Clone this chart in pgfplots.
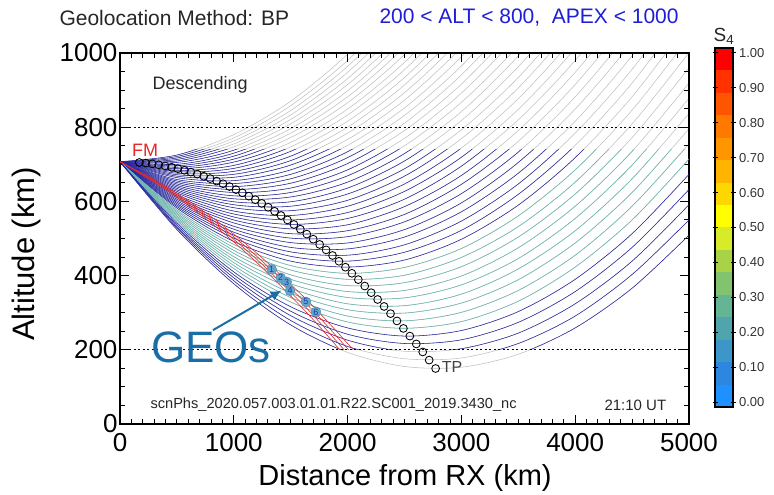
\documentclass[border=0pt]{standalone}
\usepackage{fontspec}
\setmainfont{Liberation Sans}
\usepackage{pgfplots}
\pgfplotsset{compat=1.18}
\usepackage{pgfplotstable}
\usetikzlibrary{arrows.meta}
\newcommand\fs[1]{\fontsize{#1}{#1}\selectfont}
\definecolor{raygray}{RGB}{192,192,192}
\definecolor{raynavy}{RGB}{40,40,165}
\definecolor{rayteal}{RGB}{105,185,178}
\definecolor{rayred}{RGB}{228,40,40}
\definecolor{geoblue}{RGB}{25,110,165}
\definecolor{geofill}{RGB}{100,165,205}
\definecolor{geonum}{RGB}{20,60,170}
\definecolor{titleblue}{RGB}{30,30,215}
\definecolor{cb1}{RGB}{30,144,255}
\definecolor{cb2}{RGB}{45,135,225}
\definecolor{cb3}{RGB}{60,150,200}
\definecolor{cb4}{RGB}{80,165,172}
\definecolor{cb5}{RGB}{100,180,150}
\definecolor{cb6}{RGB}{130,195,110}
\definecolor{cb7}{RGB}{170,210,70}
\definecolor{cb8}{RGB}{215,235,40}
\definecolor{cb9}{RGB}{255,255,0}
\definecolor{cb10}{RGB}{255,215,0}
\definecolor{cb11}{RGB}{255,180,0}
\definecolor{cb12}{RGB}{255,150,0}
\definecolor{cb13}{RGB}{255,120,0}
\definecolor{cb14}{RGB}{255,85,0}
\definecolor{cb15}{RGB}{255,50,0}
\definecolor{cb16}{RGB}{255,0,0}

% ray paths: altitude (km) of each of 50 rays at distances 0..5000 km
\pgfplotstableread{
x r0 r1 r2 r3 r4 r5 r6 r7 r8 r9 r10 r11 r12 r13 r14 r15 r16 r17 r18 r19 r20 r21 r22 r23 r24 r25 r26 r27 r28 r29 r30 r31 r32 r33 r34 r35 r36 r37 r38 r39 r40 r41 r42 r43 r44 r45 r46 r47 r48 r49
0 707 707 707 707 707 707 707 707 707 707 707 707 707 707 707 707 707 707 707 707 707 707 707 707 707 707 707 707 707 707 707 707 707 707 707 707 707 707 707 707 707 707 707 707 707 707 707 707 707 707
500 725 721 717 713 709 705 700 696 692 688 684 680 676 672 668 664 659 655 651 647 643 639 635 631 627 623 618 614 610 606 602 598 594 590 586 582 577 573 569 565 561 557 553 549 545 541 536 532 528 524
1000 780 771 763 755 747 738 730 722 714 706 697 689 681 673 665 656 648 640 632 624 615 607 599 591 583 574 566 558 550 542 533 525 517 509 501 492 484 476 468 460 451 443 435 427 419 410 402 394 386 378
1500 870 858 845 833 821 809 796 784 772 759 747 735 722 710 698 685 673 661 649 636 624 612 599 587 575 562 550 538 526 513 501 489 476 464 452 439 427 415 402 390 378 366 353 341 329 316 304 292 279 267
2000 997 980 964 948 931 915 898 882 866 849 833 816 800 784 767 751 734 718 702 685 669 652 636 620 603 587 570 554 537 521 505 488 472 455 439 423 406 390 373 357 341 324 308 291 275 259 242 226 209 193
2500 1160 1139 1119 1098 1078 1057 1037 1016 996 975 955 934 914 893 873 852 832 811 791 770 750 729 709 688 668 647 627 606 586 565 545 524 504 483 463 442 422 401 381 360 340 319 299 278 258 237 217 196 176 155
3000 1359 1335 1310 1285 1261 1236 1212 1187 1162 1138 1113 1088 1064 1039 1015 990 965 941 916 892 867 842 818 793 769 744 719 695 670 646 621 596 572 547 522 498 473 449 424 399 375 350 326 301 276 252 227 203 178 153
3500 1595 1566 1537 1509 1480 1451 1422 1394 1365 1336 1308 1279 1250 1221 1193 1164 1135 1107 1078 1049 1020 992 963 934 906 877 848 820 791 762 733 705 676 647 619 590 561 532 504 475 446 418 389 360 331 303 274 245 217 188
4000 1866 1834 1801 1768 1735 1702 1670 1637 1604 1571 1538 1505 1473 1440 1407 1374 1341 1309 1276 1243 1210 1177 1145 1112 1079 1046 1013 980 948 915 882 849 816 784 751 718 685 652 620 587 554 521 488 455 423 390 357 324 291 259
4500 2174 2137 2101 2064 2027 1990 1953 1916 1879 1842 1805 1768 1731 1695 1658 1621 1584 1547 1510 1473 1436 1399 1362 1325 1288 1252 1215 1178 1141 1104 1067 1030 993 956 919 882 846 809 772 735 698 661 624 587 550 513 476 439 403 366
5000 2519 2478 2437 2396 2355 2314 2273 2231 2190 2149 2108 2067 2026 1985 1944 1903 1862 1821 1780 1739 1698 1657 1616 1575 1534 1493 1452 1411 1370 1329 1288 1247 1206 1165 1124 1083 1042 1001 960 919 878 837 796 755 714 673 632 591 550 509
}\rays

\pgfplotsset{base/.style={scale only axis, width=569pt, xmin=0, xmax=5000, anchor=south west}}

\begin{document}
\begin{tikzpicture}
\path[use as bounding box] (0pt,0pt) rectangle (774pt,495pt);

% main axis with gray rays
\begin{axis}[base, at={(120pt,71pt)}, height=371pt, ymin=0, ymax=1000,
  axis on top,
  xtick={0,1000,2000,3000,4000,5000}, ytick={0,200,400,600,800,1000},
  minor x tick num=9, minor y tick num=3,
  tick align=inside, major tick length=9pt, minor tick length=5pt,
  tick style={black, line width=1pt},
  axis line style={black, line width=1.5pt},
  scaled ticks=false,
  /pgf/number format/1000 sep={},
  /pgf/number format/assume math mode=true,
  tick label style={font=\fs{26}},
  xticklabel style={yshift=-6pt},
  yticklabel style={xshift=1pt}]
  \pgfplotsinvokeforeach{0,...,49}{\addplot[raygray, line width=0.55pt, smooth] table[x=x, y=r#1] {\rays};}
\end{axis}

% colored part of the rays (200-740 km band)
\begin{axis}[base, at={(120pt,145.2pt)}, height=200.34pt, ymin=200, ymax=740, hide axis]
  \pgfplotsinvokeforeach{0,...,35}{\addplot[raynavy, line width=0.55pt, smooth] table[x=x, y=r#1] {\rays};}
  \pgfplotsinvokeforeach{36,...,44}{\addplot[rayteal, line width=0.55pt, smooth] table[x=x, y=r#1] {\rays};}
  \pgfplotsinvokeforeach{45,...,49}{\addplot[raynavy, line width=0.55pt, smooth] table[x=x, y=r#1] {\rays};}
  \addplot[rayred, line width=0.6pt, smooth] coordinates {(0,707) (400,641) (800,559) (1200,461) (1600,347) (1800,284) (2000,217) (2050,200)};
  \addplot[rayred, line width=0.6pt, smooth] coordinates {(0,707) (400,638.2) (800,553.4) (1200,452.6) (1600,335.8) (1800,271.4) (2000,203) (2010,199.5)};
  \addplot[rayred, line width=0.6pt, smooth] coordinates {(0,707) (400,635.4) (800,547.8) (1200,444.2) (1600,324.6) (1800,258.8) (1970,199.8)};
  \addplot[rayred, line width=0.6pt, smooth] coordinates {(0,707) (400,632.6) (800,542.2) (1200,435.8) (1600,313.4) (1800,246.2) (1930,200.4)};
\end{axis}

% overlay: reference lines, tangent points, GEO points, arrow
\begin{axis}[base, at={(120pt,71pt)}, height=371pt, ymin=0, ymax=1000, hide axis, clip=false]
  \addplot[black, line width=0.9pt, dash pattern=on 2pt off 2.5pt] coordinates {(0,200) (5000,200)};
  \addplot[black, line width=0.9pt, dash pattern=on 2pt off 2.5pt] coordinates {(0,800) (5000,800)};
  \addplot[only marks, mark=o, mark size=3.9pt, mark options={black, line width=0.85pt}] coordinates {
    (169.8,704.9) (226.4,703.3) (283,701.2) (339.6,698.6) (396.2,695.6) (452.8,692.1) (509.4,688.2)
    (566,683.8) (622.6,678.9) (679.2,673.6) (735.8,667.8) (792.4,661.5) (849,654.8) (905.6,647.6)
    (962.2,639.9) (1018.8,631.8) (1075.4,623.2) (1132,614.1) (1188.6,604.6) (1245.2,594.6)
    (1301.8,584.2) (1358.4,573.3) (1415,561.9) (1471.6,550.1) (1528.2,537.8) (1584.8,525.0)
    (1641.4,511.8) (1698,498.1) (1754.6,483.9) (1811.2,469.3) (1867.8,454.2) (1924.4,438.6)
    (1981,422.6) (2037.6,406.2) (2094.2,389.2) (2150.8,371.8) (2207.4,353.9) (2264,335.6)
    (2320.6,316.8) (2377.2,297.5) (2433.8,277.8) (2490.4,257.6) (2547,236.9) (2603.6,215.8)
    (2660.2,194.2) (2716.8,172.2) (2773.4,149.6)};
  \addplot[only marks, mark=*, mark size=5pt, mark options={fill=geofill, draw=geofill!85!black, line width=0.4pt},
    point meta=explicit symbolic, nodes near coords,
    every node near coord/.append style={anchor=center, font=\fs{9}, text=geonum, inner sep=0pt}]
    coordinates {(1333,417)[1] (1412,394)[2] (1465,383)[3] (1494,359)[4] (1634,329)[5] (1722,302)[6]};
  \addplot[geoblue, line width=2pt, -{Latex[length=11pt,width=10pt]}] coordinates {(817,253) (1420,360)};
\end{axis}

% S4 colour bar
\begin{axis}[scale only axis, width=18pt, height=359pt, at={(715pt,88pt)}, anchor=south west,
  xmin=0, xmax=1, ymin=-0.0143, ymax=1.0143, xtick=\empty,
  ytick={0,0.1,0.2,0.3,0.4,0.5,0.6,0.7,0.8,0.9,1},
  yticklabel pos=right, ytick pos=both,
  tick align=center, major tick length=5pt, tick style={black, line width=1pt},
  axis line style={black, line width=1.2pt}, axis on top,
  /pgf/number format/assume math mode=true,
  yticklabel style={/pgf/number format/.cd, fixed, fixed zerofill, precision=2},
  tick label style={font=\fs{13}, text=black!80}]
  \addplot[fill=cb1, draw=none] coordinates {(0,-0.0143) (1,-0.0143) (1,0.0500) (0,0.0500)};
  \addplot[fill=cb2, draw=none] coordinates {(0,0.0500) (1,0.0500) (1,0.1143) (0,0.1143)};
  \addplot[fill=cb3, draw=none] coordinates {(0,0.1143) (1,0.1143) (1,0.1786) (0,0.1786)};
  \addplot[fill=cb4, draw=none] coordinates {(0,0.1786) (1,0.1786) (1,0.2429) (0,0.2429)};
  \addplot[fill=cb5, draw=none] coordinates {(0,0.2429) (1,0.2429) (1,0.3071) (0,0.3071)};
  \addplot[fill=cb6, draw=none] coordinates {(0,0.3071) (1,0.3071) (1,0.3714) (0,0.3714)};
  \addplot[fill=cb7, draw=none] coordinates {(0,0.3714) (1,0.3714) (1,0.4357) (0,0.4357)};
  \addplot[fill=cb8, draw=none] coordinates {(0,0.4357) (1,0.4357) (1,0.5000) (0,0.5000)};
  \addplot[fill=cb9, draw=none] coordinates {(0,0.5000) (1,0.5000) (1,0.5643) (0,0.5643)};
  \addplot[fill=cb10, draw=none] coordinates {(0,0.5643) (1,0.5643) (1,0.6286) (0,0.6286)};
  \addplot[fill=cb11, draw=none] coordinates {(0,0.6286) (1,0.6286) (1,0.6929) (0,0.6929)};
  \addplot[fill=cb12, draw=none] coordinates {(0,0.6929) (1,0.6929) (1,0.7571) (0,0.7571)};
  \addplot[fill=cb13, draw=none] coordinates {(0,0.7571) (1,0.7571) (1,0.8214) (0,0.8214)};
  \addplot[fill=cb14, draw=none] coordinates {(0,0.8214) (1,0.8214) (1,0.8857) (0,0.8857)};
  \addplot[fill=cb15, draw=none] coordinates {(0,0.8857) (1,0.8857) (1,0.9500) (0,0.9500)};
  \addplot[fill=cb16, draw=none] coordinates {(0,0.9500) (1,0.9500) (1,1.0143) (0,1.0143)};
\end{axis}

% texts
\node[anchor=west, font=\fs{21}, text=black!85] at (56pt,477pt) {Geolocation Method: BP};
\node[anchor=west, font=\fs{21}, text=titleblue] at (376pt,477pt) {200 < ALT < 800,\ \ APEX < 1000};
\node[font=\fs{19}, text=black!85] at (724pt,459pt) {S\textsubscript{4}};
\node[font=\fs{29}] at (405pt,17pt) {Distance from RX (km)};
\node[font=\fs{31}, rotate=90] at (26pt,241pt) {Altitude (km)};
\node[anchor=west, font=\fs{18}, text=black!85] at (149pt,410pt) {Descending};
\node[font=\fs{18}, text=rayred] at (145pt,345pt) {FM};
\node[font=\fs{16}, text=black!75] at (452pt,128pt) {TP};
\node[anchor=west, font=\fs{14.6}, text=black!85] at (147pt,90pt) {scnPhs\_2020.057.003.01.01.R22.SC001\_2019.3430\_nc};
\node[anchor=west, font=\fs{15}, text=black!85] at (601pt,90pt) {21:10 UT};
\node[font=\fs{44}, text=geoblue] at (211pt,148pt) {GEOs};
\end{tikzpicture}
\end{document}
